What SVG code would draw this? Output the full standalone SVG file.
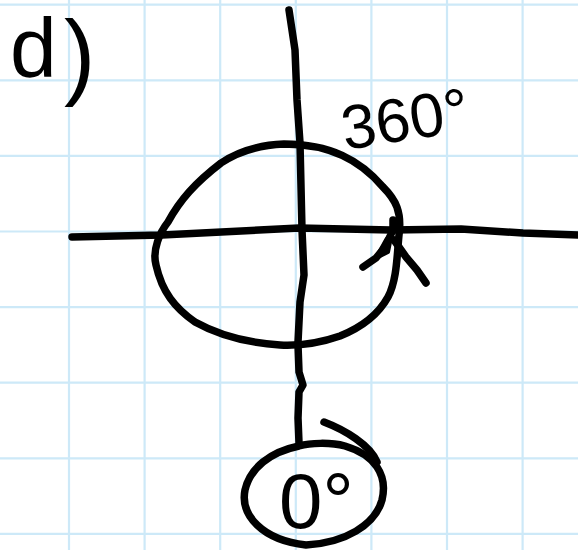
<svg xmlns="http://www.w3.org/2000/svg" width="578" height="550" viewBox="0 0 578 550">
<style>
.grid{stroke:#cde9f8;stroke-width:2.2;fill:none}
.ink{stroke:#000;stroke-width:7.5;fill:none;stroke-linecap:round;stroke-linejoin:round}
.txt{font-family:"Liberation Sans","DejaVu Sans",sans-serif;fill:#000}
</style>
<rect width="578" height="550" fill="#fff"/>
<g id="grid" class="grid">
<path d="M69 0V550M144.6 0V550M220.2 0V550M295.8 0V550M371.4 0V550M447 0V550M522.6 0V550"/>
<path d="M0 4.7H578M0 80.3H578M0 155.9H578M0 231.5H578M0 307.1H578M0 382.7H578M0 458.3H578M0 533.9H578"/>
</g>
<g id="label-d">
<text class="txt" x="10" y="77" font-size="84">d<tspan x="64" y="87" font-size="94">)</tspan></text>
</g>
<g id="axes" class="ink">
<polyline points="289,10 295,50 297,100 300,143 302,230 304,275 300,302 298,342"/>
<polyline points="72,237 162,235 299,228 391,230 461,229 523,233 578,235"/>
</g>
<g id="circle-360" class="ink">
<path d="M284,144 C330,144 360,160 383,187 C396,200 402,212 399,235 C397,255 397,280 388,297 C378,315 360,328 340,336 C320,343 300,346 280,345 C250,343 220,336 195,322 C175,308 162,292 156,265 C152,250 160,232 168,222 C180,200 195,183 221,163 C240,150 260,145 284,144 Z"/>
<polyline points="363,267 376,258 385,247 393,230 393,220"/>
<polygon points="376,258 386,240 392,232 388,252" fill="#000" stroke-width="4"/>
<polyline points="394,240 406,257 417,270 426,283"/>
</g>
<g id="label-360">
<text class="txt" x="345" y="150" font-size="62" transform="rotate(-9 345 150)">360°</text>
</g>
<g id="connector" class="ink">
<polyline points="298,345 299,372 303,385 299,392 298,418 299,443"/>
</g>
<g id="node-0">
<path class="ink" d="M299,446 C270,452 250,468 245,490 C240,515 262,540 306,545 C345,543 375,525 382,500 C388,475 375,455 345,446 C330,442 310,443 299,446 Z"/>
<path class="ink" d="M324,422 C345,430 370,445 377,462"/>
<text class="txt" x="279" y="528" font-size="78">0°</text>
</g>
</svg>
